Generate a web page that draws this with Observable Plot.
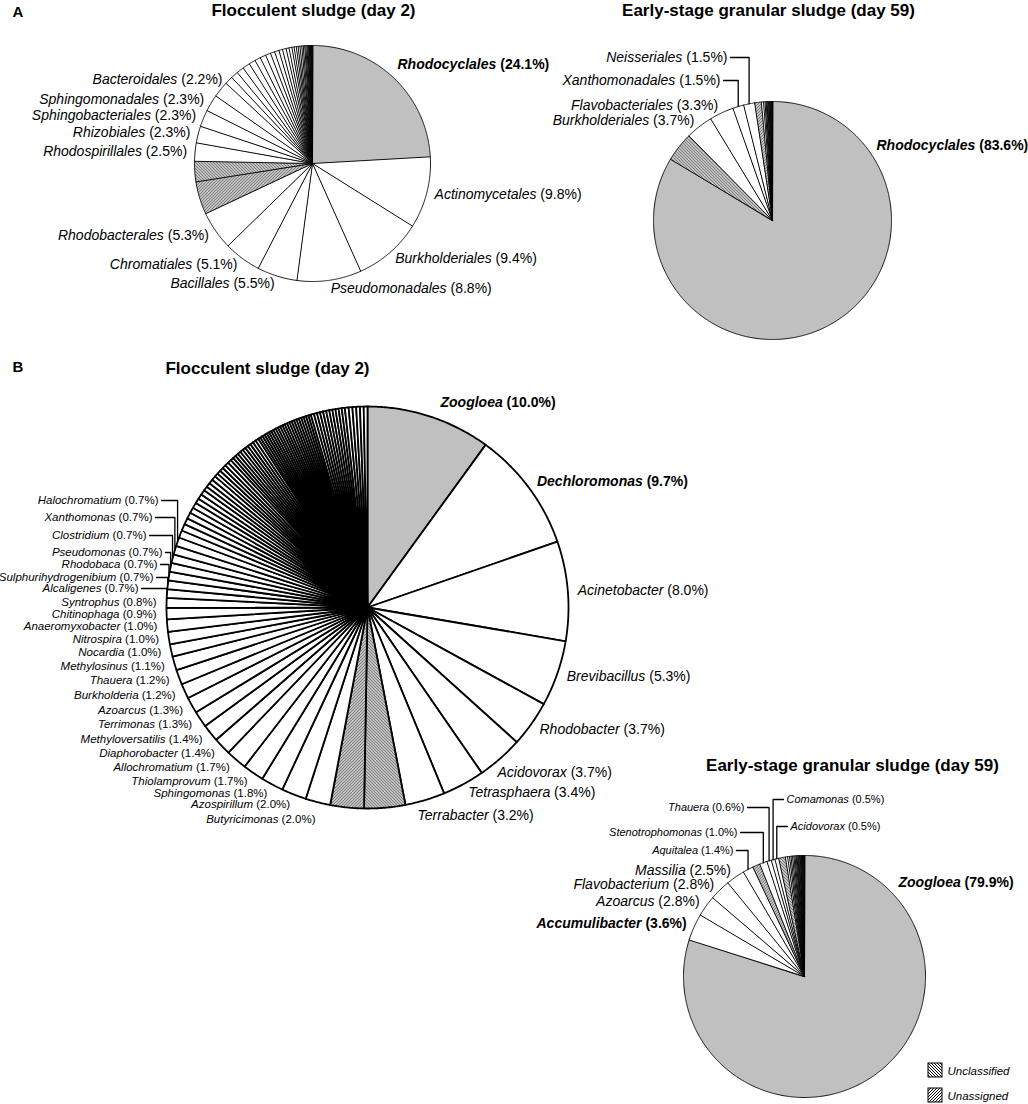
<!DOCTYPE html>
<html><head><meta charset="utf-8">
<script src="https://cdn.jsdelivr.net/npm/d3@7"></script>
<script src="https://cdn.jsdelivr.net/npm/@observablehq/plot@0.6"></script>
<style>body{margin:0;background:#fff} svg{display:block}</style>
</head><body><div id="chart"></div>
<script>
// ---------------- DATA ----------------
// A: order level, flocculent sludge (day 2) — clockwise from 12 o'clock
const orderDay2Names = ["Rhodocyclales","Actinomycetales","Burkholderiales","Pseudomonadales","Bacillales","Chromatiales","Rhodobacterales","Unassigned","Unclassified","Rhodospirillales","Rhizobiales","Sphingobacteriales","Sphingomonadales","Bacteroidales"];
const orderDay2Values = [24.1,9.8,9.4,8.8,5.5,5.1,5.3,4.5,2.8,2.5,2.3,2.3,2.3,2.2];
const orderDay2Minor = [1.1,1.0,1.0,1.0,0.9,0.8,0.8,0.7,0.6,0.6,0.5,0.5,0.4,0.4,0.3,0.3,0.25,0.25,0.25,0.2,0.2,0.15,0.15,0.12,0.1,0.1,0.08,0.08,0.06,0.05,0.05,0.04,0.04,0.03];

// A: order level, early-stage granular sludge (day 59)
const orderDay59Names = ["Rhodocyclales","Unclassified","Burkholderiales","Flavobacteriales","Xanthomonadales","Neisseriales","Unassigned"];
const orderDay59Values = [83.6,4.0,3.7,3.3,1.5,1.5,0.9];
const orderDay59Minor = [0.3,0.2,0.15,0.12,0.1,0.1,0.08,0.08,0.07,0.06,0.05,0.05,0.04,0.04,0.03,0.03];

// B: genus level, flocculent sludge (day 2)
const genusDay2Names = ["Zoogloea","Dechloromonas","Acinetobacter","Brevibacillus","Rhodobacter","Acidovorax","Tetrasphaera","Terrabacter","Unclassified","Unassigned","Butyricimonas","Azospirillum","Sphingomonas","Thiolamprovum","Allochromatium","Diaphorobacter","Methyloversatilis","Terrimonas","Azoarcus","Burkholderia","Thauera","Methylosinus","Nocardia","Nitrospira","Anaeromyxobacter","Chitinophaga","Syntrophus","Alcaligenes","Sulphurihydrogenibium","Rhodobaca","Pseudomonas","Clostridium","Xanthomonas","Halochromatium"];
const genusDay2Values = [10.0,9.7,8.0,5.3,3.7,3.7,3.4,3.2,3.3,2.7,2.0,2.0,1.8,1.7,1.7,1.4,1.4,1.3,1.3,1.2,1.2,1.1,1.0,1.0,1.0,0.9,0.8,0.7,0.7,0.7,0.7,0.7,0.7,0.7];
const genusDay2Minor = [0.6,0.55,0.5,0.5,0.45,0.45,0.4,0.4,0.4,0.35,0.35,0.35,0.35,
  0.3,0.3,0.3,0.3,0.3,0.3,
  0.25,0.25,0.25,0.25,0.25,0.25,0.25,0.25,0.25,0.25,0.25,
  0.2,0.2,0.2,0.2,0.2,0.2,0.2,0.2,0.2,0.2,0.2,0.2,0.2,0.2,0.2,0.2,0.2,0.2,0.2,0.2,0.2,0.2,0.2,
  0.25,0.25,0.25,0.25,0.25,0.25,0.25,0.25,0.25,0.25,0.25,
  0.3,0.3,0.3,0.3,0.3,0.3];

// B: genus level, early-stage granular sludge (day 59)
const genusDay59Names = ["Zoogloea","Accumulibacter","Azoarcus","Flavobacterium","Massilia","Aquitalea","Unassigned","Stenotrophomonas","Thauera","Comamonas","Acidovorax","Unclassified"];
const genusDay59Values = [79.9,3.6,2.8,2.8,2.5,1.4,1.0,1.0,0.6,0.5,0.5,0.9];
const genusDay59Minor = [0.3,0.25,0.2,0.2,0.18,0.15,0.15,0.12,0.12,0.1,0.1,0.1,0.08,0.08,0.07,0.06,0.06,0.05,0.05,0.04,0.04,0.03];

const boldNames = ["Rhodocyclales","Zoogloea","Dechloromonas","Accumulibacter"];
const legendItems = ["Unclassified","Unassigned"];
const panelLetters = ["A","B"];

// ---------------- LAYOUT ----------------
const W = 1028, H = 1104;
const FONT = "'Liberation Sans', Arial, Helvetica, sans-serif";
const panels = [
  {key:"A1", title:"Flocculent sludge (day 2)", names:orderDay2Names, values:orderDay2Values, minor:orderDay2Minor,
   cx:312, cy:163, r:118, sw:0.9, gap:8, titleX:313, titleY:10, bigMin:0, big:14, small:14},
  {key:"A2", title:"Early-stage granular sludge (day 59)", names:orderDay59Names, values:orderDay59Values, minor:orderDay59Minor,
   cx:772, cy:220, r:119, sw:0.9, gap:8, titleX:768, titleY:10, bigMin:0, big:14, small:14},
  {key:"B1", title:"Flocculent sludge (day 2)", names:genusDay2Names, values:genusDay2Values, minor:genusDay2Minor,
   cx:367, cy:607, r:201, sw:1.8, gap:10, titleX:267, titleY:368, bigMin:3, big:14, small:11.5},
  {key:"B2", title:"Early-stage granular sludge (day 59)", names:genusDay59Names, values:genusDay59Values, minor:genusDay59Minor,
   cx:804, cy:976, r:121, sw:0.9, gap:8, titleX:852, titleY:765, bigMin:2, big:14, small:11}
];
const letterPos = [{x:12, y:12}, {x:12, y:367}];
// manual label placements (offsets from pie centre); leader = elbow line to slice
const labelPlacement = {
  "A1/Rhodocyclales": {dx:85, dy:-99, anchor:"start"},
  "A1/Bacteroidales": {dx:-90, dy:-84, anchor:"end"},
  "A2/Rhodocyclales": {dx:104, dy:-75, anchor:"start"},
  "A2/Xanthomonadales": {dx:-52, dy:-140, anchor:"end", leader:true},
  "A2/Neisseriales": {dx:-45, dy:-163, anchor:"end", leader:true},
  "B1/Zoogloea": {dx:73, dy:-205, anchor:"start"},
  "B1/Acidovorax": {dx:130, dy:165, anchor:"start"},
  "B1/Terrabacter": {dx:50, dy:208, anchor:"start"},
  "B1/Butyricimonas": {dx:-52, dy:212, anchor:"end"},
  "B1/Halochromatium": {dx:-209, dy:-107, anchor:"end", leader:true},
  "B1/Xanthomonas": {dx:-215, dy:-90, anchor:"end", leader:true},
  "B1/Clostridium": {dx:-221, dy:-72, anchor:"end", leader:true},
  "B1/Pseudomonas": {dx:-205, dy:-55, anchor:"end", leader:true},
  "B1/Rhodobaca": {dx:-210, dy:-43, anchor:"end", leader:true},
  "B1/Sulphurihydrogenibium": {dx:-214, dy:-30, anchor:"end", leader:true},
  "B1/Alcaligenes": {dx:-229, dy:-19, anchor:"end", leader:true},
  "B2/Zoogloea": {dx:94, dy:-94, anchor:"start"},
  "B2/Aquitalea": {dx:-71, dy:-126, anchor:"end", leader:true},
  "B2/Stenotrophomonas": {dx:-67, dy:-144, anchor:"end", leader:true},
  "B2/Thauera": {dx:-60, dy:-169, anchor:"end", leader:true},
  "B2/Comamonas": {dx:-18, dy:-177, anchor:"start", leader:true},
  "B2/Acidovorax": {dx:-14, dy:-150, anchor:"start", leader:true}
};
const legendLayout = {x:928, y:1063, size:14, step:25};

// ---------------- BUILD ----------------
const slicePts = [], labels = [], leaders = [];
for (const p of panels) {
  const vals = p.values.concat(p.minor);
  const names = p.names.concat(p.minor.map(() => null));
  const total = d3.sum(vals);
  const pt = (a, rr) => [p.cx + rr * Math.sin(a), p.cy - rr * Math.cos(a)];
  let acc = 0;
  vals.forEach((v, i) => {
    const a0 = acc / total * 2 * Math.PI; acc += v; const a1 = acc / total * 2 * Math.PI;
    const name = names[i];
    const fill = i === 0 ? "#c0c0c0" : name === "Unclassified" ? "url(#hatch-uncl)" : name === "Unassigned" ? "url(#hatch-unas)" : "white";
    const id = p.key + "-" + i;
    slicePts.push({id, key:p.key, x:p.cx, y:p.cy, fill});
    const n = Math.max(1, Math.ceil((a1 - a0) / (Math.PI / 360)));
    for (let k = 0; k <= n; k++) {
      const [x, y] = pt(a0 + (a1 - a0) * k / n, p.r);
      slicePts.push({id, key:p.key, x, y, fill});
    }
    if (name && name !== "Unclassified" && name !== "Unassigned") {
      const mid = (a0 + a1) / 2;
      const pl = labelPlacement[p.key + "/" + name];
      let x, y, anchor;
      if (pl) { x = p.cx + pl.dx; y = p.cy + pl.dy; anchor = pl.anchor; }
      else { [x, y] = pt(mid, p.r + p.gap); anchor = Math.sin(mid) >= 0 ? "start" : "end"; }
      labels.push({x, y, anchor, text:`${name} (${v.toFixed(1)}%)`,
        size: v >= p.bigMin ? p.big : p.small, weight: boldNames.includes(name) ? "bold" : "normal"});
      if (pl && pl.leader) {
        const [ex, ey] = pt(mid, p.r);
        const sx = x + (anchor === "end" ? 3 : -3);
        leaders.push({id:id, x:sx, y}, {id:id, x:ex, y}, {id:id, x:ex, y:ey});
      }
    }
  });
}

const patternDefs = () => {
  const defs = document.createElementNS("http://www.w3.org/2000/svg", "defs");
  defs.innerHTML =
    `<pattern id="hatch-uncl" patternUnits="userSpaceOnUse" width="3" height="3">
       <rect width="3" height="3" fill="white"/>
       <path d="M0,0L3,3M-1,2L1,4M2,-1L4,1" stroke="black" stroke-width="1"/>
     </pattern>
     <pattern id="hatch-unas" patternUnits="userSpaceOnUse" width="3" height="3">
       <rect width="3" height="3" fill="white"/>
       <path d="M0,3L3,0M-1,1L1,-1M2,4L4,2" stroke="black" stroke-width="1"/>
     </pattern>`;
  return defs;
};

const sliceMarks = panels.map(p => Plot.line(slicePts.filter(d => d.key === p.key), {
  x:"x", y:"y", z:"id", fill:"fill", stroke:"black", strokeWidth:p.sw,
  curve:"linear-closed", strokeLinejoin:"round"
}));

const groups = d3.groups(labels, d => `${d.anchor}|${d.size}|${d.weight}`);
const labelMarks = groups.map(([k, arr]) => Plot.text(arr, {
  x:"x", y:"y", text:"text", textAnchor:arr[0].anchor, fontSize:arr[0].size, fontWeight:arr[0].weight, fill:"black"
}));

const legendRows = legendItems.map((t, i) => ({
  t, x1:legendLayout.x, x2:legendLayout.x + legendLayout.size,
  y1:legendLayout.y + i * legendLayout.step, y2:legendLayout.y + i * legendLayout.step + legendLayout.size,
  fill: t === "Unclassified" ? "url(#hatch-uncl)" : "url(#hatch-unas)"
}));

const chart = Plot.plot({
  width:W, height:H, margin:0,
  x:{type:"linear", domain:[0, W], range:[0, W], axis:null},
  y:{type:"linear", domain:[0, H], range:[0, H], axis:null},
  color:{type:"identity"},
  style:{fontFamily:FONT, background:"white", color:"black"},
  marks:[
    patternDefs,
    ...sliceMarks,
    Plot.line(leaders, {x:"x", y:"y", z:"id", stroke:"black", strokeWidth:1.3}),
    ...labelMarks,
    Plot.text(panels, {x:"titleX", y:"titleY", text:"title", fontWeight:"bold", fontSize:17, fill:"black"}),
    Plot.text(panelLetters, {x:(d, i) => letterPos[i].x, y:(d, i) => letterPos[i].y, text:d => d, textAnchor:"start", fontWeight:"bold", fontSize:15, fill:"black"}),
    Plot.rect(legendRows, {x1:"x1", x2:"x2", y1:"y1", y2:"y2", fill:"fill", stroke:"black", strokeWidth:1}),
    Plot.text(legendRows, {x:d => d.x2 + 5, y:d => (d.y1 + d.y2) / 2 + 1, text:"t", textAnchor:"start", fontStyle:"italic", fontSize:11.5, fill:"black"})
  ]
});

// italic taxon names, upright percentages
chart.querySelectorAll("text").forEach(t => {
  const m = t.textContent.match(/^(.*) (\(\d+\.\d%\))$/);
  if (!m) return;
  t.textContent = "";
  const a = document.createElementNS("http://www.w3.org/2000/svg", "tspan");
  a.setAttribute("font-style", "italic"); a.textContent = m[1];
  const b = document.createElementNS("http://www.w3.org/2000/svg", "tspan");
  b.textContent = " " + m[2];
  t.append(a, b);
});
document.getElementById("chart").append(chart);
</script>
</body></html>
